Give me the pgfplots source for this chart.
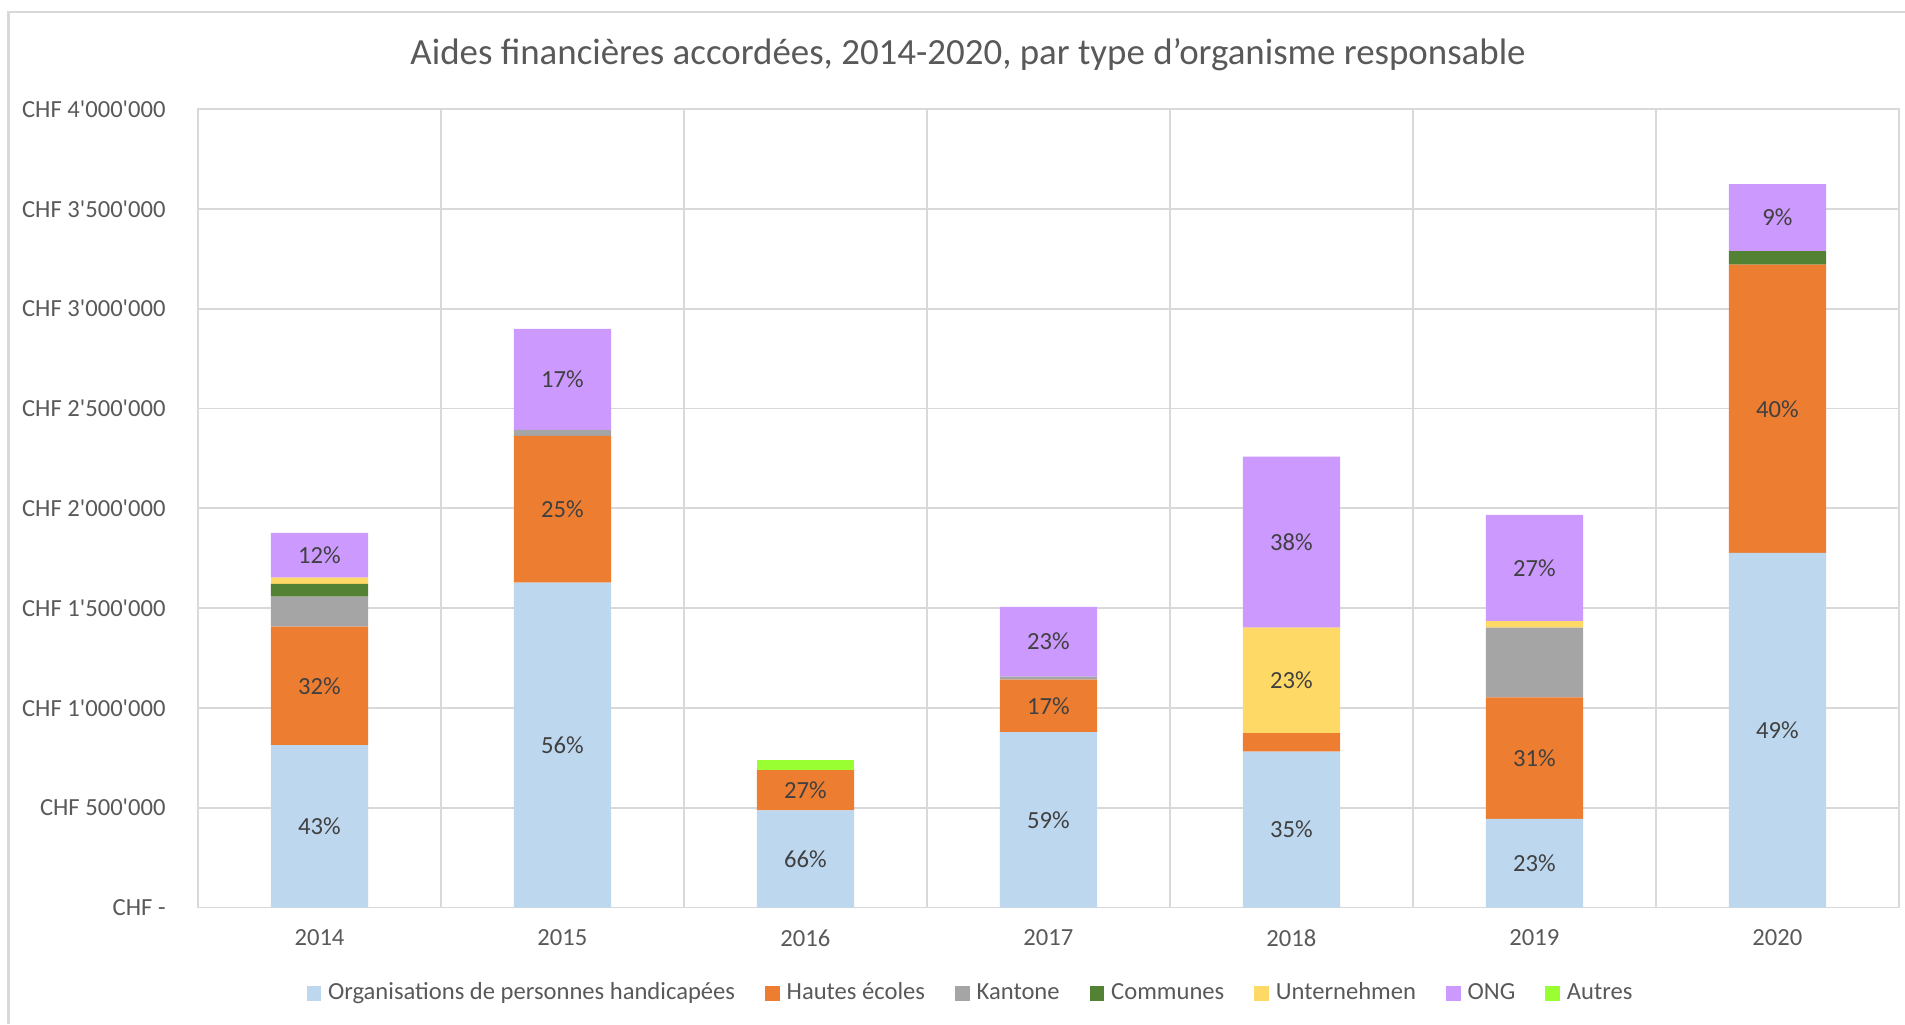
\documentclass[border=0pt]{standalone}
\usepackage{fontspec}
\setmainfont{Carlito}[Ligatures=TeXOff]
\usepackage{pgfplots}
\pgfplotsset{compat=1.18}
\definecolor{cOrg}{HTML}{BDD7EE}
\definecolor{cHE}{HTML}{ED7D31}
\definecolor{cKant}{HTML}{A5A5A5}
\definecolor{cComm}{HTML}{548235}
\definecolor{cUnt}{HTML}{FFD966}
\definecolor{cONG}{HTML}{CC99FF}
\definecolor{cAut}{HTML}{99FF33}
\definecolor{txtgray}{HTML}{595959}
\definecolor{lblgray}{HTML}{404040}
\definecolor{gridgray}{HTML}{D9D9D9}

\pgfplotsset{
  chartbox/.style={
    at={(1.98cm,1.165cm)}, anchor=south west,
    scale only axis, width=17.01cm, height=7.985cm,
    xmin=2013.5, xmax=2020.5, ymin=0, ymax=4000000,
  }
}

\begin{document}
\begin{tikzpicture}[x=1cm,y=1cm]
\useasboundingbox (0,0) rectangle (19.05,10.24);
\draw[gridgray, line width=0.6pt] (0.085,0) -- (0.085,10.12) -- (19.05,10.12);
\node[anchor=center, font=\fontsize{10.5}{12}\selectfont, text=txtgray] at (9.68,9.69)
  {Aides financières accordées, 2014-2020, par type d’organisme responsable};

\begin{axis}[
  chartbox,
  ybar stacked,
  bar width=0.4,
  xtick={2014,...,2020},
  xticklabels={2014,2015,2016,2017,2018,2019,2020},
  minor xtick={2014.5,2015.5,2016.5,2017.5,2018.5,2019.5},
  ytick={0,500000,...,4000000},
  yticklabels={CHF -\hspace{0.45em},CHF 500'000,CHF 1'000'000,CHF 1'500'000,CHF 2'000'000,CHF 2'500'000,CHF 3'000'000,CHF 3'500'000,CHF 4'000'000},
  scaled y ticks=false,
  major tick length=0pt, minor tick length=0pt,
  ymajorgrids, xminorgrids,
  grid style={gridgray, line width=0.5pt},
  minor grid style={gridgray, line width=0.5pt},
  axis line style={gridgray, line width=0.5pt},
  tick label style={font=\fontsize{7}{8}\selectfont, text=txtgray},
  yticklabel style={xshift=-0.2cm},
  xticklabel style={yshift=-0.1cm},
  legend style={at={(0.4556,-0.108)}, anchor=center, draw=none, fill=none,
    font=\fontsize{7}{8}\selectfont, text=txtgray,
    /tikz/every even column/.append style={column sep=0.23cm}},
  legend columns=7,
  legend image code/.code={\fill[#1] (0cm,-0.07cm) rectangle (0.145cm,0.075cm);},
]
\addplot[fill=cOrg, draw=none] coordinates {(2014,814000)(2015,1627000)(2016,487000)(2017,879000)(2018,781000)(2019,444000)(2020,1776000)};
\addplot[fill=cHE, draw=none] coordinates {(2014,593000)(2015,735000)(2016,201000)(2017,262000)(2018,93000)(2019,609000)(2020,1445000)};
\addplot[fill=cKant, draw=none] coordinates {(2014,150000)(2015,31000)(2016,0)(2017,16000)(2018,0)(2019,349000)(2020,0)};
\addplot[fill=cComm, draw=none] coordinates {(2014,64000)(2015,0)(2016,0)(2017,0)(2018,0)(2019,0)(2020,67000)};
\addplot[fill=cUnt, draw=none] coordinates {(2014,32000)(2015,0)(2016,0)(2017,0)(2018,528000)(2019,32000)(2020,0)};
\addplot[fill=cONG, draw=none] coordinates {(2014,224000)(2015,505000)(2016,0)(2017,349000)(2018,857000)(2019,533000)(2020,336000)};
\addplot[fill=cAut, draw=none] coordinates {(2014,0)(2015,0)(2016,49000)(2017,0)(2018,0)(2019,0)(2020,0)};
\legend{Organisations de personnes handicapées, Hautes écoles, Kantone, Communes, Unternehmen, ONG, Autres}
\end{axis}

\begin{axis}[chartbox, hide axis, clip=false]
\addplot[only marks, mark=none,
  nodes near coords, point meta=explicit symbolic,
  every node near coord/.append style={anchor=center, font=\fontsize{7}{8}\selectfont, text=lblgray}]
  coordinates {
  (2014,407000)[43\%] (2014,1110500)[32\%] (2014,1765000)[12\%]
  (2015,813500)[56\%] (2015,1994500)[25\%] (2015,2645500)[17\%]
  (2016,243500)[66\%] (2016,587500)[27\%]
  (2017,439500)[59\%] (2017,1010000)[17\%] (2017,1331500)[23\%]
  (2018,390500)[35\%] (2018,1138000)[23\%] (2018,1830500)[38\%]
  (2019,222000)[23\%] (2019,748500)[31\%] (2019,1700500)[27\%]
  (2020,888000)[49\%] (2020,2498500)[40\%] (2020,3456000)[9\%]
  };
\end{axis}
\end{tikzpicture}
\end{document}
